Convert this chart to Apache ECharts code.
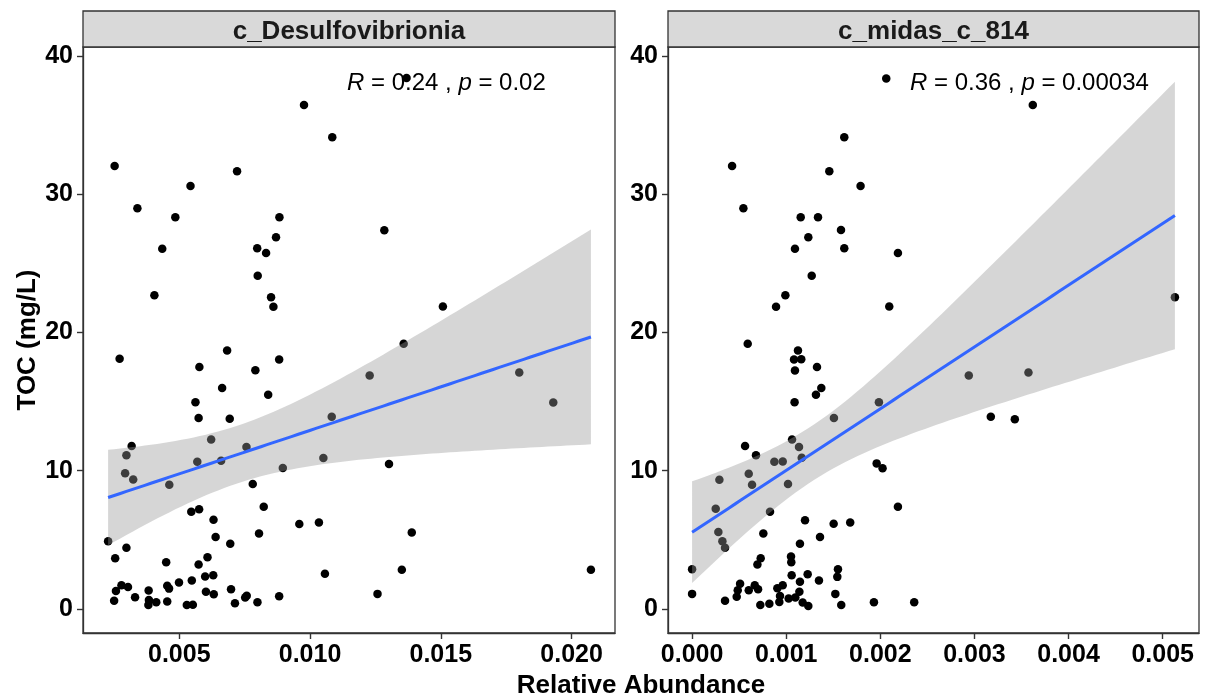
<!DOCTYPE html>
<html>
<head>
<meta charset="utf-8">
<script src="https://cdn.jsdelivr.net/npm/echarts@6/dist/echarts.min.js"></script>
<style>
  html, body { margin: 0; padding: 0; background: #ffffff; }
  #chart { width: 1205px; height: 700px; }
</style>
</head>
<body>
<div id="chart"></div>
<script>
// Facet titles and correlation statistics
const panelTitles = ['c_Desulfovibrionia', 'c_midas_c_814'];
const corrR = ['0.24', '0.36'];
const corrP = ['0.02', '0.00034'];

// Tick values
const yTicks = [0, 10, 20, 30, 40];
const desulfoTicks = [0.005, 0.010, 0.015, 0.020];
const midasTicks = [0.000, 0.001, 0.002, 0.003, 0.004, 0.005];

// c_Desulfovibrionia: relative abundance vs TOC (mg/L)
const desulfoX = [
  0.00977, 0.01085, 0.00253, 0.00721, 0.00543, 0.00340, 0.00485, 0.00883, 0.00870, 0.00435,
  0.00798, 0.00832, 0.00800, 0.00405, 0.00851, 0.00860, 0.01369, 0.01284, 0.01508, 0.00272,
  0.00683, 0.00577, 0.00791, 0.00882, 0.00664, 0.00840, 0.00562, 0.00574, 0.00693, 0.01083,
  0.00318, 0.00622, 0.00757, 0.00298, 0.00569, 0.00660, 0.01051, 0.00896, 0.00293, 0.00324,
  0.00462, 0.00781, 0.00823, 0.00546, 0.00576, 0.00631, 0.00959, 0.01034, 0.00805, 0.00639,
  0.00695, 0.00228, 0.00298, 0.00255, 0.00450, 0.00608, 0.00574, 0.01057, 0.00599, 0.00630,
  0.00279, 0.00304, 0.00258, 0.00383, 0.00454, 0.00461, 0.00499, 0.00548, 0.00698, 0.00602,
  0.00632, 0.00251, 0.00331, 0.00384, 0.00382, 0.00412, 0.00454, 0.00529, 0.00552, 0.00713,
  0.00752, 0.00758, 0.00799, 0.00882, 0.01358, 0.01228, 0.01800, 0.01930, 0.01302, 0.01389,
  0.01351, 0.02074, 0.01258
];
const desulfoY = [
  36.45, 34.13, 32.05, 31.67, 30.60, 28.99, 28.33, 28.33, 26.88, 26.06,
  26.09, 25.75, 24.10, 22.70, 22.54, 21.86, 38.40, 27.40, 21.88, 18.09,
  18.70, 17.51, 17.27, 18.04, 15.99, 15.50, 14.95, 13.82, 13.75, 13.91,
  11.79, 12.25, 11.72, 11.11, 10.65, 10.72, 10.92, 10.19, 9.81, 9.37,
  8.99, 9.04, 7.39, 7.03, 7.22, 6.45, 6.14, 6.26, 5.46, 5.20,
  4.71, 4.90, 4.42, 3.67, 3.38, 3.74, 3.21, 2.54, 2.34, 2.44,
  1.72, 1.59, 1.30, 1.33, 1.67, 1.47, 1.91, 2.05, 1.43, 1.25,
  1.06, 0.60, 0.85, 0.65, 0.29, 0.48, 0.53, 0.29, 0.31, 0.41,
  0.82, 0.96, 0.48, 0.92, 19.18, 16.88, 17.10, 14.93, 10.49, 5.53,
  2.83, 2.83, 1.09
];

// c_midas_c_814: relative abundance vs TOC (mg/L)
const midasX = [
  0.002063, 0.001617, 0.000425, 0.001458, 0.001790, 0.000545, 0.001154, 0.001338, 0.001582, 0.001235,
  0.001093, 0.001617, 0.002187, 0.001271, 0.000991, 0.000892, 0.002095, 0.003620, 0.005130, 0.002940,
  0.003574, 0.003174, 0.003429, 0.000591, 0.001125, 0.001083, 0.001160, 0.001093, 0.001327, 0.001373,
  0.001316, 0.001089, 0.001985, 0.001507, 0.001062, 0.000563, 0.001136, 0.000679, 0.001165, 0.000874,
  0.000963, 0.001961, 0.002024, 0.000290, 0.000602, 0.000637, 0.001019, 0.002187, 0.000251, 0.000828,
  0.001200, 0.001504, 0.001680, 0.000279, 0.000757, 0.001359, 0.000322, 0.000350, 0.001146, 0.000729,
  0.000694, 0.001051, 0.001054, 0.000000, 0.001550, 0.001543, 0.001058, 0.001228, 0.001348, 0.001146,
  0.000510, 0.000666, 0.000963, 0.000906, 0.000485, 0.000602, 0.000701, 0.001140, 0.001522, 0.000000,
  0.000474, 0.000934, 0.001026, 0.001097, 0.000350, 0.000927, 0.001175, 0.000725, 0.000821, 0.001235,
  0.001585, 0.001932, 0.002360
];
const midasY = [
  38.38, 34.13, 32.05, 31.67, 30.60, 28.99, 28.33, 28.33, 27.41, 26.88,
  26.06, 26.09, 25.75, 24.10, 22.70, 21.86, 21.88, 36.45, 22.54, 16.88,
  17.10, 13.91, 13.72, 19.18, 18.70, 18.04, 18.07, 17.25, 17.51, 15.99,
  15.50, 14.95, 14.95, 13.82, 12.25, 11.79, 11.72, 11.11, 10.94, 10.65,
  10.67, 10.53, 10.17, 9.35, 9.78, 8.99, 9.04, 7.39, 7.25, 7.03,
  6.42, 6.16, 6.25, 5.56, 5.46, 5.20, 4.90, 4.42, 4.71, 3.67,
  3.21, 3.79, 3.38, 2.87, 2.87, 2.32, 2.44, 2.51, 2.05, 1.96,
  1.83, 1.72, 1.72, 1.50, 1.36, 1.36, 1.43, 1.25, 1.09, 1.09,
  0.89, 0.94, 0.75, 0.82, 0.60, 0.51, 0.46, 0.29, 0.38, 0.22,
  0.29, 0.48, 0.48
];

const FONT = '"Liberation Sans", Arial, sans-serif';

// Student t 0.975 quantile (Cornish-Fisher expansion)
function tQuantile975(df) {
  const z = 1.959964;
  const g1 = (Math.pow(z, 3) + z) / 4;
  const g2 = (5 * Math.pow(z, 5) + 16 * Math.pow(z, 3) + 3 * z) / 96;
  const g3 = (3 * Math.pow(z, 7) + 19 * Math.pow(z, 5) + 17 * Math.pow(z, 3) - 15 * z) / 384;
  return z + g1 / df + g2 / (df * df) + g3 / (df * df * df);
}

// Ordinary least squares fit with a 95% confidence band, evaluated on 80 points
function lmBand(xs, ys) {
  const n = xs.length;
  const mx = xs.reduce((a, b) => a + b, 0) / n;
  const my = ys.reduce((a, b) => a + b, 0) / n;
  let sxx = 0, sxy = 0;
  for (let i = 0; i < n; i++) {
    sxx += (xs[i] - mx) * (xs[i] - mx);
    sxy += (xs[i] - mx) * (ys[i] - my);
  }
  const b = sxy / sxx, a = my - b * mx;
  let sse = 0;
  for (let i = 0; i < n; i++) { const r = ys[i] - a - b * xs[i]; sse += r * r; }
  const s = Math.sqrt(sse / (n - 2));
  const t = tQuantile975(n - 2);
  const lo = Math.min(...xs), hi = Math.max(...xs);
  const out = [];
  for (let k = 0; k < 80; k++) {
    const x = lo + (hi - lo) * k / 79;
    const fit = a + b * x;
    const se = s * Math.sqrt(1 / n + (x - mx) * (x - mx) / sxx);
    out.push([x, fit, fit - t * se, fit + t * se]);
  }
  return out;
}

const panels = [
  { xs: desulfoX, ys: desulfoY, ticks: desulfoTicks, xmin: 0.00132, xmax: 0.02166 },
  { xs: midasX, ys: midasY, ticks: midasTicks, xmin: -0.000256, xmax: 0.005386 }
];
const gridBoxes = [
  { left: 83, top: 47, width: 532, height: 586 },
  { left: 668, top: 47, width: 531, height: 586 }
];
const Y_MIN = -1.74, Y_MAX = 40.65;

const grids = [], xAxes = [], yAxes = [], series = [], graphics = [];
const frameLine = { show: true, onZero: false, lineStyle: { color: '#333333', width: 1.3 } };
const tickStyle = { color: '#333333', width: 1.4 };

panels.forEach((p, k) => {
  const g = gridBoxes[k];
  grids.push({ left: g.left, top: g.top, width: g.width, height: g.height,
    show: true, borderColor: '#333333', borderWidth: 1.3, backgroundColor: '#ffffff' });

  xAxes.push({
    type: 'value', gridIndex: k, min: p.xmin, max: p.xmax,
    axisLine: frameLine,
    splitLine: { show: false },
    axisTick: { show: true, inside: false, length: 6, lineStyle: tickStyle, customValues: p.ticks },
    axisLabel: { customValues: p.ticks, formatter: v => v.toFixed(3), margin: 10,
      color: '#000000', fontWeight: 'bold', fontSize: 25, fontFamily: FONT }
  });

  yAxes.push({
    type: 'value', gridIndex: k, min: Y_MIN, max: Y_MAX,
    name: k === 0 ? 'TOC (mg/L)' : '', nameLocation: 'middle', nameRotate: 90, nameGap: 38,
    nameTextStyle: { color: '#000000', fontWeight: 'bold', fontSize: 26, fontFamily: FONT },
    axisLine: frameLine,
    splitLine: { show: false },
    axisTick: { show: true, inside: false, length: 6, lineStyle: tickStyle, customValues: yTicks },
    axisLabel: { customValues: yTicks, margin: 10,
      color: '#000000', fontWeight: 'bold', fontSize: 25, fontFamily: FONT }
  });

  // Observations
  series.push({
    type: 'scatter', xAxisIndex: k, yAxisIndex: k, z: 2, silent: true,
    symbolSize: 8.5, itemStyle: { color: '#000000', opacity: 1 },
    data: p.xs.map((x, i) => [x, p.ys[i]])
  });

  const band = lmBand(p.xs, p.ys);

  // Confidence ribbon, translucent grey over the points
  series.push({
    type: 'custom', xAxisIndex: k, yAxisIndex: k, z: 3, silent: true,
    data: band.map(d => [d[0], d[2], d[3]]),
    renderItem: function (params, api) {
      if (params.dataIndex !== 0) return null;
      const upper = band.map(d => api.coord([d[0], d[3]]));
      const lower = band.slice().reverse().map(d => api.coord([d[0], d[2]]));
      return {
        type: 'polygon',
        shape: { points: upper.concat(lower) },
        style: { fill: 'rgba(153,153,153,0.4)', stroke: null }
      };
    }
  });

  // Fitted regression line
  series.push({
    type: 'line', xAxisIndex: k, yAxisIndex: k, z: 4, silent: true,
    showSymbol: false, symbol: 'none',
    lineStyle: { color: '#3366FF', width: 3 },
    data: band.map(d => [d[0], d[1]])
  });

  // Facet strip
  graphics.push({
    type: 'rect', z: 10,
    shape: { x: g.left, y: 11, width: g.width, height: 36 },
    style: { fill: '#D9D9D9', stroke: '#333333', lineWidth: 1.3 }
  });
  graphics.push({
    type: 'text', z: 11,
    style: { text: panelTitles[k], x: g.left + g.width / 2, y: 32,
      textAlign: 'center', textVerticalAlign: 'middle', verticalAlign: 'middle',
      font: 'bold 26px ' + FONT, fill: '#1A1A1A' }
  });
});

// Correlation annotations
const annotX = [347, 910];
panels.forEach((p, k) => {
  graphics.push({
    type: 'text', z: 12,
    style: {
      text: '{i|R}{n| = ' + corrR[k] + ' , }{i|p}{n| = ' + corrP[k] + '}',
      x: annotX[k], y: 83, textAlign: 'left', textVerticalAlign: 'middle', verticalAlign: 'middle',
      font: '24px ' + FONT, fill: '#000000',
      rich: {
        i: { fontStyle: 'italic', fontSize: 24, fontFamily: FONT, color: '#000000' },
        n: { fontSize: 24, fontFamily: FONT, color: '#000000' }
      }
    }
  });
});

// Shared x-axis title
graphics.push({
  type: 'text', z: 12,
  style: { text: 'Relative Abundance', x: 641, y: 686,
    textAlign: 'center', textVerticalAlign: 'middle', verticalAlign: 'middle',
    font: 'bold 26px ' + FONT, fill: '#000000' }
});

const chart = echarts.init(document.getElementById('chart'), null, { renderer: 'canvas' });
chart.setOption({
  backgroundColor: '#ffffff',
  animation: false,
  grid: grids,
  xAxis: xAxes,
  yAxis: yAxes,
  series: series,
  graphic: graphics
});
</script>
</body>
</html>
